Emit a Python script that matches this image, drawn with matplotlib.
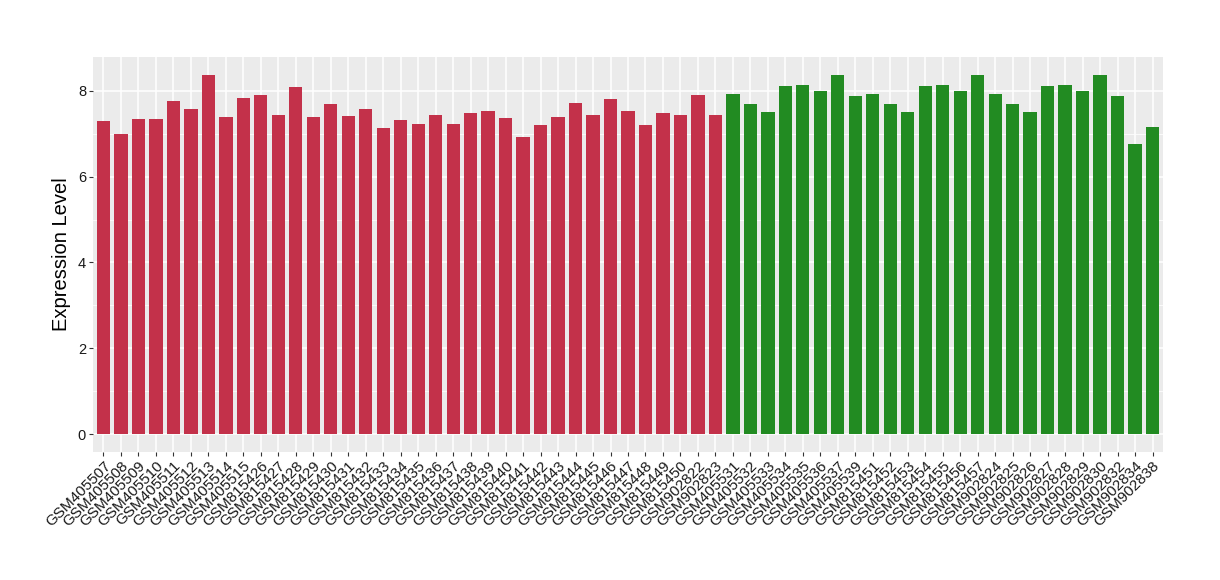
import matplotlib
matplotlib.use("Agg")
import matplotlib.pyplot as plt
from matplotlib.ticker import MultipleLocator

red_samples = ["GSM405507", "GSM405508", "GSM405509", "GSM405510", "GSM405511", "GSM405512",
               "GSM405513", "GSM405514", "GSM405515", "GSM815426", "GSM815427", "GSM815428",
               "GSM815429", "GSM815430", "GSM815431", "GSM815432", "GSM815433", "GSM815434",
               "GSM815435", "GSM815436", "GSM815437", "GSM815438", "GSM815439", "GSM815440",
               "GSM815441", "GSM815442", "GSM815443", "GSM815444", "GSM815445", "GSM815446",
               "GSM815447", "GSM815448", "GSM815449", "GSM815450", "GSM902822", "GSM902823"]
red_values = [7.30, 6.99, 7.34, 7.34, 7.77, 7.58, 8.37, 7.39, 7.84, 7.91, 7.44, 8.09,
              7.39, 7.70, 7.41, 7.58, 7.14, 7.32, 7.23, 7.44, 7.23, 7.49, 7.53, 7.37,
              6.92, 7.20, 7.39, 7.72, 7.44, 7.81, 7.53, 7.20, 7.49, 7.44, 7.91, 7.44]

green_samples = ["GSM405531", "GSM405532", "GSM405533", "GSM405534", "GSM405535", "GSM405536",
                 "GSM405537", "GSM405539", "GSM815451", "GSM815452", "GSM815453", "GSM815454",
                 "GSM815455", "GSM815456", "GSM815457", "GSM902824", "GSM902825", "GSM902826",
                 "GSM902827", "GSM902828", "GSM902829", "GSM902830", "GSM902832", "GSM902834",
                 "GSM902838"]
green_values = [7.93, 7.70, 7.51, 8.12, 8.14, 8.00, 8.37, 7.88, 7.93, 7.70, 7.51, 8.12,
                8.14, 8.00, 8.37, 7.93, 7.70, 7.51, 8.12, 8.14, 8.00, 8.37, 7.88, 6.76,
                7.16]

RED = "#C3314A"
GREEN = "#228B22"

plt.rcParams['font.family'] = ['Liberation Sans', 'DejaVu Sans']

fig = plt.figure(figsize=(12.2, 5.8), dpi=100)
ax = fig.add_axes([93/1220, 1 - 452/580, (1163-93)/1220, (452-57)/580])

labels = red_samples + green_samples
values = red_values + green_values
colors = [RED]*len(red_samples) + [GREEN]*len(green_samples)
x = list(range(len(labels)))

ax.set_facecolor("#EBEBEB")
ax.set_axisbelow(True)
ax.bar(x, values, width=0.76, color=colors, zorder=3)

ymax = max(values)
pad = 0.05 * ymax
ax.set_ylim(-pad, ymax + pad)
ax.set_xlim(-0.6, len(labels) - 1 + 0.6)

ax.yaxis.set_major_locator(MultipleLocator(2))
ax.yaxis.set_minor_locator(MultipleLocator(1))
ax.grid(which='major', axis='both', color='white', linewidth=1.1, zorder=0)
ax.grid(which='minor', axis='y', color='white', linewidth=0.55, zorder=0)

ax.set_xticks(x)
ax.set_xticklabels(labels, rotation=45, ha='right', va='top', rotation_mode='anchor',
                   fontsize=11, color='#1A1A1A')
for t in ax.get_yticklabels():
    t.set_fontsize(10.5)
    t.set_color('#1A1A1A')
ax.tick_params(axis='both', which='major', length=3, color='#333333', width=0.8, pad=2)
ax.tick_params(axis='y', which='minor', length=0)
for s in ax.spines.values():
    s.set_visible(False)

ax.set_ylabel("Expression Level", fontsize=14.5, labelpad=5)

fig.savefig("out.png", dpi=100, facecolor='white')
